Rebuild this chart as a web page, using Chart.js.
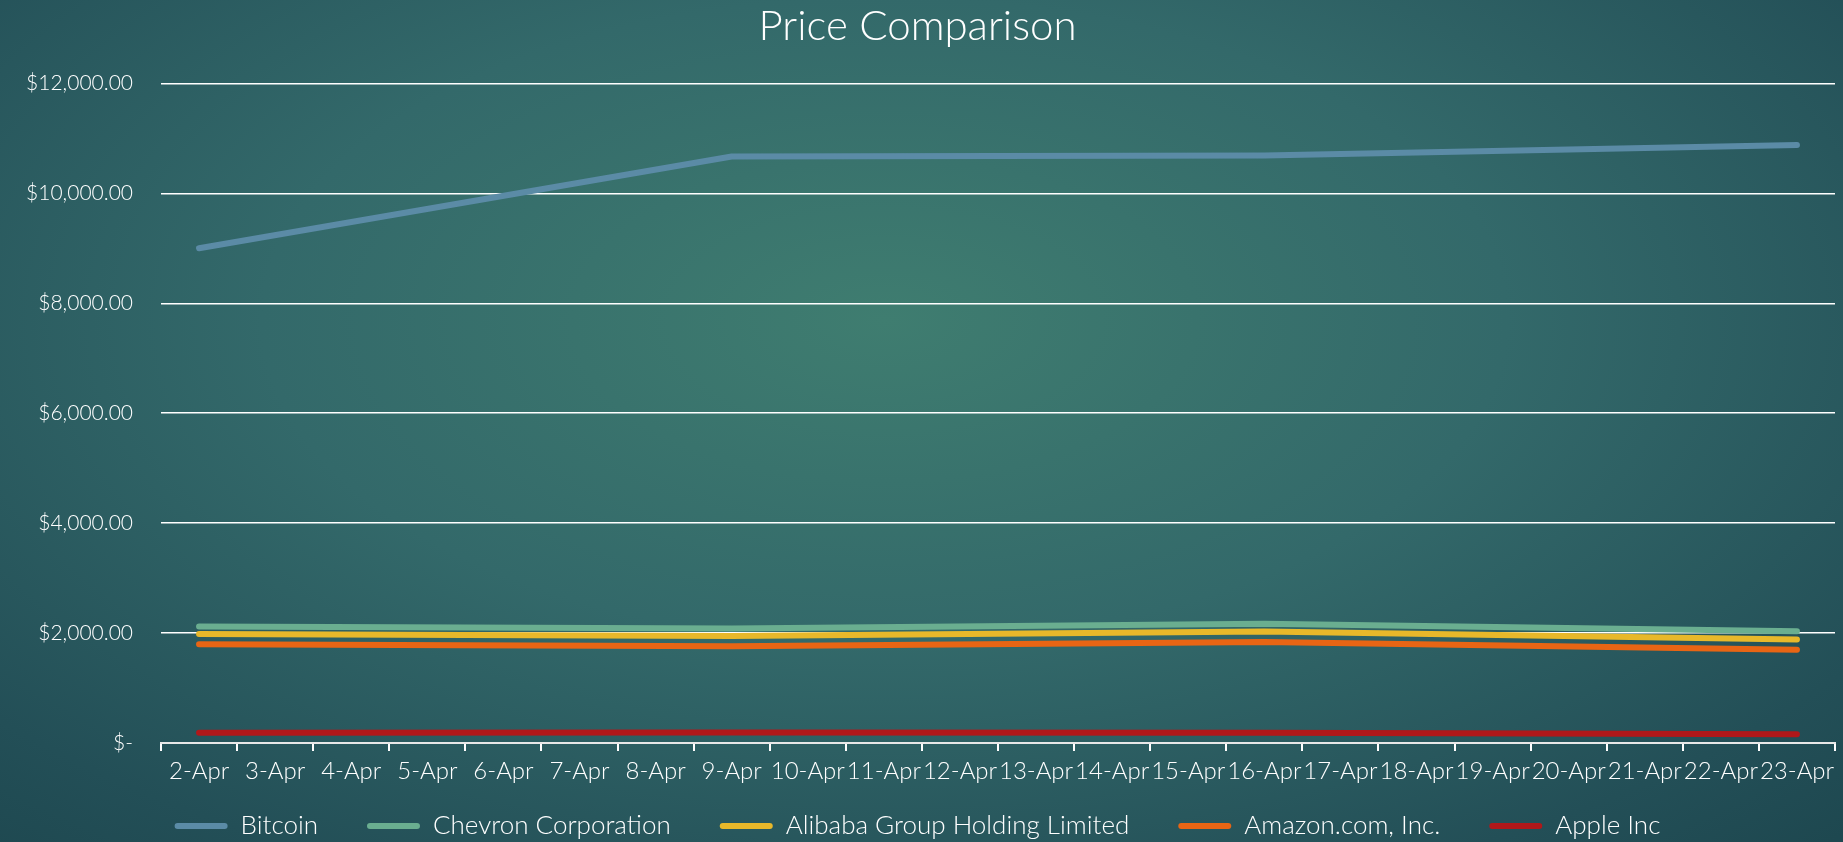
<!DOCTYPE html>
<html>
<head>
<meta charset="utf-8">
<title>Price Comparison</title>
<script src="https://cdn.jsdelivr.net/npm/chart.js@4.4.0/dist/chart.umd.min.js"></script>
<style>
  html, body {
    margin: 0;
    padding: 0;
    overflow: hidden;
  }
  body {
    width: 1843px;
    height: 842px;
    background: radial-gradient(ellipse 75% 85% at 48% 38%, #3f7d70 0%, #33696a 45%, #234f57 85%, #1e4850 100%);
  }
  .chart {
    position: relative;
    width: 1843px;
    height: 842px;
  }
</style>
</head>
<body>
<div class="chart">
  <canvas id="priceChart"></canvas>
</div>
<script>
// days on the x axis
const categories = ['2-Apr', '3-Apr', '4-Apr', '5-Apr', '6-Apr', '7-Apr', '8-Apr', '9-Apr',
  '10-Apr', '11-Apr', '12-Apr', '13-Apr', '14-Apr', '15-Apr', '16-Apr', '17-Apr',
  '18-Apr', '19-Apr', '20-Apr', '21-Apr', '22-Apr', '23-Apr'];

// prices are only known once a week, the line joins the gaps
const bitcoin = [9000, null, null, null, null, null, null, 10670, null, null, null, null, null, null,
  10690, null, null, null, null, null, null, 10880];
const chevron = [2120, null, null, null, null, null, null, 2085, null, null, null, null, null, null,
  2170, null, null, null, null, null, null, 2035];
const alibaba = [1982, null, null, null, null, null, null, 1945, null, null, null, null, null, null,
  2030, null, null, null, null, null, null, 1885];
const amazon = [1795, null, null, null, null, null, null, 1760, null, null, null, null, null, null,
  1836, null, null, null, null, null, null, 1697];
const apple = [188, null, null, null, null, null, null, 190, null, null, null, null, null, null,
  188, null, null, null, null, null, null, 158];

const yTicks = [0, 2000, 4000, 6000, 8000, 10000, 12000];

const seriesNames = ['Bitcoin', 'Chevron Corporation', 'Alibaba Group Holding Limited', 'Amazon.com, Inc.', 'Apple Inc'];
const seriesColors = ['#5b8ba6', '#6aae90', '#e8b82a', '#e86514', '#b0181a'];
const seriesData = [bitcoin, chevron, alibaba, amazon, apple];

const datasets = seriesNames.map((name, i) => ({
  label: name,
  data: seriesData[i],
  borderColor: seriesColors[i],
  backgroundColor: seriesColors[i],
  borderWidth: 6,
  borderCapStyle: 'round',
  borderJoinStyle: 'round',
  pointRadius: 0,
  pointHoverRadius: 0,
  tension: 0,
  spanGaps: true
}));

function money(value) {
  if (value === 0) return '$-';
  return '$' + value.toLocaleString('en-US', {minimumFractionDigits: 2, maximumFractionDigits: 2});
}

const white = '#ffffff';
const fontFamily = 'Lato, "Open Sans", sans-serif';

new Chart(document.getElementById('priceChart'), {
  type: 'line',
  data: {
    labels: categories,
    datasets: datasets
  },
  options: {
    responsive: true,
    maintainAspectRatio: false,
    animation: false,
    layout: {
      padding: {left: 0, right: 8, top: 0, bottom: 0}
    },
    plugins: {
      title: {
        display: true,
        text: 'Price Comparison',
        color: white,
        font: {family: fontFamily, size: 42, weight: 300},
        padding: {top: 1, bottom: 32}
      },
      legend: {
        position: 'bottom',
        maxHeight: 78,
        labels: {
          color: white,
          font: {family: fontFamily, size: 26, weight: 300},
          boxWidth: 53,
          boxHeight: 6,
          useBorderRadius: true,
          borderRadius: 3,
          padding: 49,
          generateLabels: (chart) => {
            const items = Chart.defaults.plugins.legend.labels.generateLabels(chart);
            items.forEach(item => { item.lineWidth = 0; });
            return items;
          }
        }
      },
      tooltip: {enabled: false}
    },
    scales: {
      x: {
        offset: true,
        grid: {
          offset: true,
          drawOnChartArea: false,
          color: white,
          lineWidth: 2,
          tickLength: 8
        },
        border: {display: true, color: '#e8e8e8', width: 2},
        ticks: {
          color: white,
          font: {family: fontFamily, size: 24, weight: 300},
          padding: 6,
          maxRotation: 0,
          minRotation: 0,
          autoSkip: false
        },
        afterFit: (scale) => {
          // labels hang below the axis box, into the legend's top padding
          scale.height = 21;
          scale._computeLabelArea = () => null;
        }
      },
      y: {
        min: 0,
        max: 12000,
        grid: {
          color: white,
          lineWidth: 1.5,
          drawTicks: false
        },
        border: {display: false},
        ticks: {
          color: white,
          font: {family: fontFamily, size: 21, weight: 300},
          padding: 28,
          stepSize: 2000,
          callback: (value) => yTicks.includes(value) ? money(value) : ''
        },
        afterFit: (scale) => { scale.width = 161; }
      }
    }
  }
});
</script>
</body>
</html>
